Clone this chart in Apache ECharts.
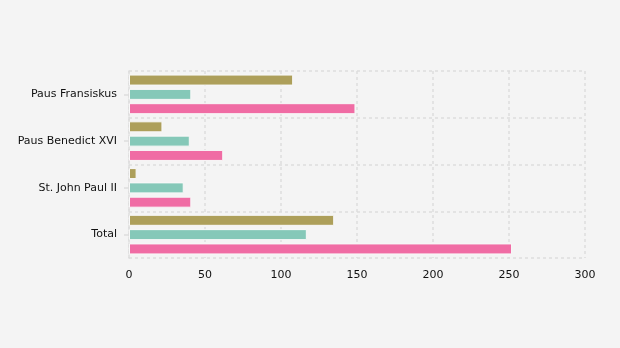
<!DOCTYPE html>
<html><head><meta charset="utf-8">
<script src="https://cdn.jsdelivr.net/npm/echarts@6/dist/echarts.min.js"></script>
<style>html,body{margin:0;padding:0;background:#f4f4f4}#c{width:620px;height:348px}</style>
</head><body><div id="c"></div>
<script>
var categories = ["Total", "St. John Paul II", "Paus Benedict XVI", "Paus Fransiskus"];
var seriesOlive = [135, 5, 22, 108];
var seriesTeal = [117, 36, 40, 41];
var seriesPink = [252, 41, 62, 149];
var xTicks = [0, 50, 100, 150, 200, 250, 300];

var chart = echarts.init(document.getElementById('c'), null, {renderer: 'canvas'});
var gridLine = {show: true, lineStyle: {color: '#dddddd', type: [3, 3], width: 1.5}};
function bar(name, data, color) {
  return {
    name: name, type: 'bar', data: data, barWidth: 11, barGap: '30%', barCategoryGap: '18%',
    itemStyle: {color: color, borderColor: '#f8f8f8', borderWidth: 1},
    silent: true
  };
}
chart.setOption({
  backgroundColor: '#f4f4f4',
  animation: false,
  textStyle: {fontFamily: 'DejaVu Sans'},
  grid: {left: 129, right: 35, top: 71, bottom: 90, containLabel: false},
  xAxis: {
    type: 'value', min: xTicks[0], max: xTicks[xTicks.length - 1], interval: 50,
    axisLine: {show: false}, axisTick: {show: false},
    splitLine: gridLine,
    axisLabel: {color: '#111', fontSize: 11, margin: 12, fontFamily: 'DejaVu Sans'}
  },
  yAxis: {
    type: 'category', data: categories,
    axisLine: {show: true, lineStyle: {color: '#dddddd', type: [3, 3], width: 1.5}},
    axisTick: {show: true, alignWithLabel: true, length: 5, lineStyle: {color: '#dddddd', width: 1.5}},
    splitLine: gridLine,
    axisLabel: {color: '#111', fontSize: 11, margin: 12, fontFamily: 'DejaVu Sans'}
  },
  series: [
    bar('A', seriesOlive, '#ad9f5a'),
    bar('B', seriesTeal, '#85c8b8'),
    bar('C', seriesPink, '#f06ca4')
  ]
});
</script></body></html>
